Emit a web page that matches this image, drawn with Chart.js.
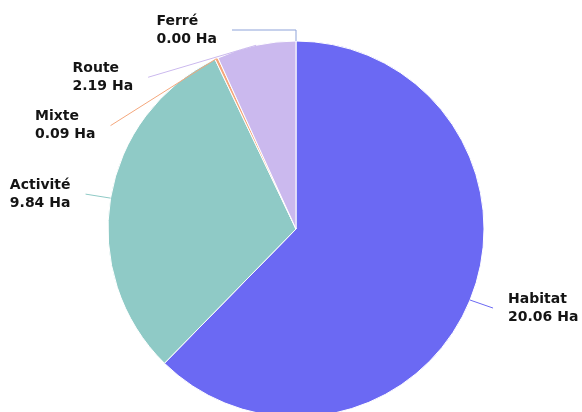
<!DOCTYPE html>
<html>
<head>
<meta charset="utf-8">
<script src="https://cdn.jsdelivr.net/npm/chart.js@4/dist/chart.umd.min.js"></script>
<style>
  html, body { margin: 0; padding: 0; background: #ffffff; }
  #wrap { width: 582px; height: 412px; position: relative; }
</style>
</head>
<body>
<div id="wrap"><canvas id="c" width="582" height="412"></canvas></div>
<script>
// ---- data ----
const categories = ["Habitat", "Activité", "Mixte", "Route", "Ferré"];
const surfaces = [20.06, 9.84, 0.09, 2.19, 0.00];
const unit = "Ha";

// ---- styles ----
const sliceColors = ["#6b69f3", "#8fcac6", "#f4a77c", "#cbb9ee", "#8ea3d9"];
// leader line geometry (offsets from the slice's outer mid point, px)
const leaderLayout = [
  { type: "straight", dx: 23, dy: 8 },
  { type: "straight", dx: -25, dy: -4 },
  { type: "straight", dx: -106, dy: 67 },
  { type: "straight", dx: -108, dy: 32 },
  { type: "elbow", up: 11, dx: -64 }
];

const labelPlugin = {
  id: "outerLabels",
  afterDatasetsDraw(chart) {
    const ctx = chart.ctx;
    const meta = chart.getDatasetMeta(0);
    ctx.save();
    ctx.font = "bold 14px 'DejaVu Sans', sans-serif";
    ctx.textBaseline = "middle";
    meta.data.forEach((arc, i) => {
      const p = arc.getProps(["x", "y", "startAngle", "endAngle", "outerRadius"], true);
      const mid = (p.startAngle + p.endAngle) / 2;
      const sx = p.x + Math.cos(mid) * p.outerRadius;
      const sy = p.y + Math.sin(mid) * p.outerRadius;
      const lay = leaderLayout[i];
      ctx.strokeStyle = sliceColors[i];
      ctx.lineWidth = 1;
      ctx.beginPath();
      ctx.moveTo(sx, sy);
      let ex, ey;
      if (lay.type === "elbow") {
        ctx.lineTo(sx, sy - lay.up);
        ex = sx + lay.dx; ey = sy - lay.up;
      } else {
        ex = sx + lay.dx; ey = sy + lay.dy;
      }
      ctx.lineTo(ex, ey);
      ctx.stroke();
      const l1 = categories[i];
      const l2 = surfaces[i].toFixed(2) + " " + unit;
      ctx.fillStyle = "#141414";
      ctx.textAlign = "left";
      const w = Math.max(ctx.measureText(l1).width, ctx.measureText(l2).width);
      const right = (ex >= p.x);
      const tx = right ? ex + 15 : ex - 15 - w;
      ctx.fillText(l1, tx, ey - 9);
      ctx.fillText(l2, tx, ey + 9);
    });
    ctx.restore();
  }
};

new Chart(document.getElementById("c"), {
  type: "pie",
  data: {
    labels: categories,
    datasets: [{
      data: surfaces,
      backgroundColor: sliceColors,
      borderColor: "#ffffff",
      borderWidth: 1
    }]
  },
  options: {
    responsive: false,
    animation: false,
    radius: 188,
    layout: { padding: { left: 10, right: 0, top: 46, bottom: 0 } },
    plugins: {
      legend: { display: false },
      tooltip: { enabled: false }
    }
  },
  plugins: [labelPlugin]
});
</script>
</body>
</html>
